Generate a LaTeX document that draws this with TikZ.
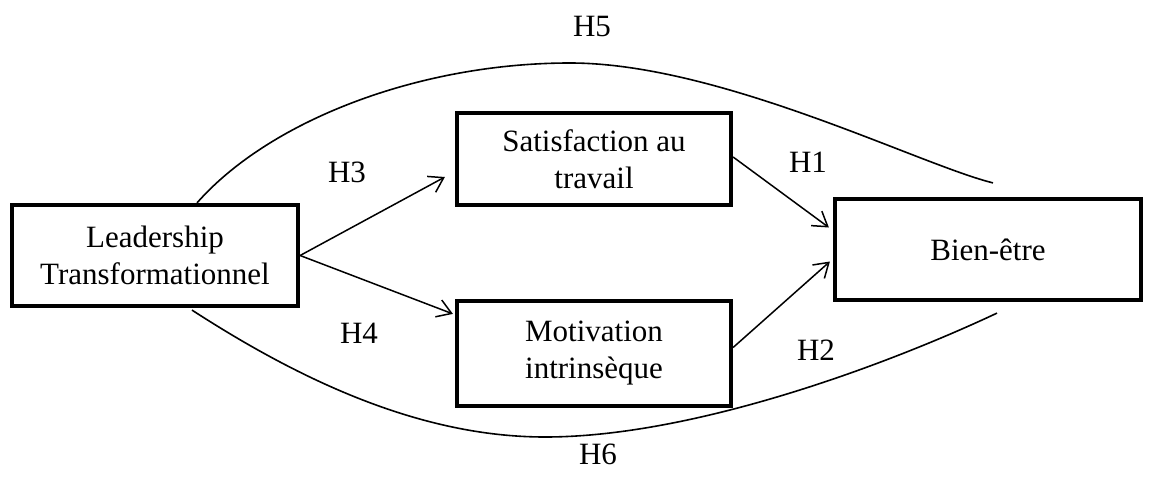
\documentclass[tikz,border=0pt]{standalone}
\usepackage{fontspec}
\setmainfont{Liberation Serif}
\usetikzlibrary{arrows.meta,calc}
\begin{document}
\begin{tikzpicture}[x=1pt,y=-1pt,
  box/.style={draw,line width=4.2pt,fill=white,inner sep=0pt,align=center,
    font=\fontsize{31}{37}\selectfont},
  lbl/.style={font=\fontsize{31}{37}\selectfont,inner sep=0pt},
  arr/.style={line width=1.5pt,-{Straight Barb[length=14pt,width=18pt]}},
  link/.style={line width=1.6pt}]
\useasboundingbox (0,0) rectangle (1155,487);

% boxes
\node[box,minimum width=286pt,minimum height=101pt] (lead) at (155,255.5)
  {Leadership\\Transformationnel};
\node[box,minimum width=274pt,minimum height=92pt] (sat) at (594,159)
  {Satisfaction au\\travail};
\node[box,minimum width=274pt,minimum height=105pt] (mot) at (594,353.5)
  {Motivation\\intrinsèque};
\node[box,minimum width=306pt,minimum height=101pt] (bien) at (988,249.5)
  {Bien-être};

% loose ends of the two direct paths
\coordinate (h5a) at ($(lead.north)+(42,0)$);
\coordinate (h5b) at ($(bien.north)+(5,-14)$);
\coordinate (h6a) at ($(lead.south)+(37,2)$);
\coordinate (h6b) at ($(bien.south)+(9,11)$);

% direct effect curves
\draw[link] (h5a) .. controls (270,120) and (420,63) .. (570,63)
  .. controls (720,63) and (920,165) .. (h5b);
\draw[link] (h6a) .. controls (300,380) and (420,437) .. (545,437)
  .. controls (690,437) and (880,368) .. (h6b);

% mediated paths
\draw[arr] (lead.east) -- ($(sat.west)+(-10,18)$);
\draw[arr] (lead.east) -- ($(mot.north west)+(-2,15)$);
\draw[arr] ($(sat.east)+(0,-2)$) -- ($(bien.west)+(-4,-22)$);
\draw[arr] ($(mot.east)+(0,-6)$) -- ($(bien.west)+(-3,12)$);

% hypothesis labels
\node[lbl] (lh5) at (592,27) {H5};
\node[lbl] (lh3) at (347,172) {H3};
\node[lbl] (lh1) at (808,162) {H1};
\node[lbl] (lh4) at (359,333) {H4};
\node[lbl] (lh2) at (816,350) {H2};
\node[lbl] (lh6) at (598,454) {H6};
\end{tikzpicture}
\end{document}
